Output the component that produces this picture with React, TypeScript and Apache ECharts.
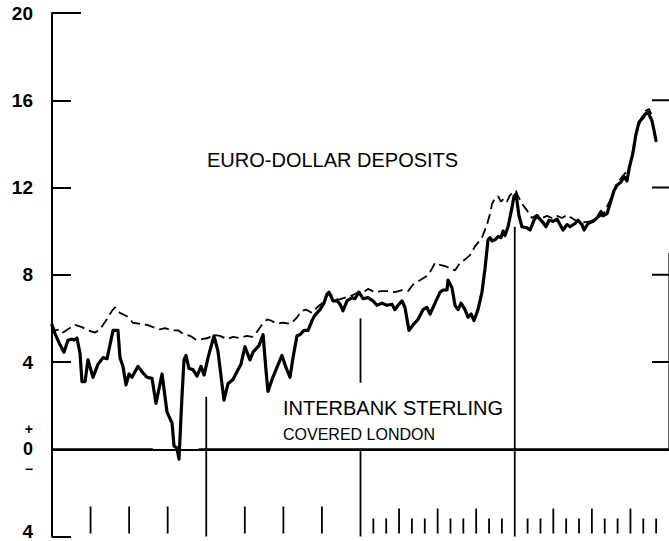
import React, { useEffect, useRef } from "react";
import * as echarts from "echarts";

// x = months from start of the period (4 years), y = per cent
const interbankSterling: number[][] = [
  [0, 5.7], [0.23, 5.3], [0.62, 4.8], [0.93, 4.45], [1.24, 5.0], [1.56, 5.05], [1.71, 5.0], [1.94, 5.1],
  [2.18, 4.4], [2.33, 3.1], [2.57, 3.1], [2.8, 4.1], [3.19, 3.3], [3.58, 3.9], [3.97, 4.2], [4.28, 4.15],
  [4.59, 5.0], [4.75, 5.45], [5.13, 5.45], [5.29, 4.2], [5.52, 3.8], [5.76, 2.95], [5.99, 3.45], [6.22, 3.3],
  [6.69, 3.8], [7.0, 3.55], [7.39, 3.3], [7.78, 3.25], [8.09, 2.1], [8.56, 3.45], [8.95, 1.7], [9.34, 1.2],
  [9.49, 0.15], [9.72, 0.05], [9.88, -0.45], [10.11, 2.4], [10.27, 4.1], [10.42, 4.3], [10.66, 3.7],
  [10.97, 3.65], [11.28, 3.35], [11.59, 3.8], [11.83, 3.4], [12.14, 4.2], [12.6, 5.2], [12.91, 4.5],
  [13.38, 2.25], [13.69, 3.0], [14.08, 3.2], [14.39, 3.55], [14.7, 3.9], [15.01, 4.7], [15.4, 4.1],
  [15.64, 4.45], [16.1, 4.75], [16.42, 5.25], [16.65, 3.6], [16.8, 2.65], [17.12, 3.2], [17.5, 3.75],
  [17.89, 4.3], [18.2, 3.75], [18.52, 3.3], [18.75, 4.2], [19.06, 5.2], [19.29, 5.25], [19.6, 5.45],
  [19.92, 5.45], [20.23, 5.9], [20.46, 6.15], [20.85, 6.4], [21.16, 6.7], [21.39, 7.1], [21.55, 7.2],
  [21.86, 6.8], [22.17, 6.8], [22.41, 6.65], [22.64, 6.35], [22.95, 6.8], [23.34, 6.95], [23.57, 6.9],
  [23.88, 7.2], [24.2, 6.9], [24.58, 6.95], [24.97, 6.8], [25.28, 6.6], [25.67, 6.7], [26.06, 6.6],
  [26.45, 6.65], [26.68, 6.4], [26.92, 6.6], [27.23, 6.8], [27.46, 6.5], [27.77, 5.45], [28.09, 5.7],
  [28.47, 5.95], [28.86, 6.4], [29.17, 6.5], [29.41, 6.2], [29.8, 6.7], [30.19, 7.2], [30.42, 7.3],
  [30.73, 7.3], [30.81, 7.75], [31.12, 7.4], [31.35, 6.6], [31.59, 6.4], [31.82, 6.7], [32.13, 6.4],
  [32.36, 6.05], [32.6, 6.2], [32.83, 5.9], [33.14, 6.4], [33.45, 7.2], [33.69, 8.3], [33.92, 9.6],
  [34.08, 9.7], [34.23, 9.55], [34.46, 9.6], [34.7, 9.75], [34.93, 9.7], [35.09, 10.0], [35.24, 9.8],
  [35.48, 10.2], [35.79, 11.1], [35.94, 11.6], [36.1, 11.7], [36.33, 10.7], [36.56, 10.2], [36.95, 10.15],
  [37.19, 10.05], [37.5, 10.5], [37.73, 10.7], [38.12, 10.45], [38.43, 10.2], [38.67, 10.5], [38.98, 10.45],
  [39.29, 10.55], [39.52, 10.3], [39.75, 10.05], [40.07, 10.3], [40.3, 10.2], [40.69, 10.35], [40.92, 10.5],
  [41.23, 10.3], [41.39, 10.05], [41.7, 10.35], [42.09, 10.45], [42.4, 10.6], [42.71, 10.9], [42.87, 10.7],
  [43.18, 10.8], [43.49, 11.4], [43.72, 11.85], [43.96, 12.1], [44.27, 12.25], [44.5, 12.5], [44.73, 12.3],
  [44.89, 12.85], [45.2, 13.6], [45.43, 14.45], [45.67, 15.0], [45.98, 15.2], [46.13, 15.35], [46.37, 15.45],
  [46.68, 15.05], [46.84, 14.6], [46.99, 14.15],
];

const euroDollarDeposits: number[][] = [
  [0, 5.7], [0.23, 5.45], [0.62, 5.5], [0.86, 5.35], [1.24, 5.5], [1.79, 5.7], [2.33, 5.6], [2.8, 5.45],
  [3.35, 5.35], [3.73, 5.5], [4.2, 5.9], [4.67, 6.35], [4.9, 6.5], [5.29, 6.25], [5.83, 6.1], [6.3, 5.8],
  [6.85, 5.75], [7.39, 5.7], [7.86, 5.6], [8.4, 5.5], [8.79, 5.55], [9.34, 5.45], [9.8, 5.45], [10.19, 5.3],
  [10.74, 5.2], [11.28, 5.0], [11.67, 5.05], [12.14, 5.1], [12.53, 5.25], [13.07, 5.2], [13.61, 5.05],
  [14.08, 5.15], [14.63, 5.1], [15.17, 5.2], [15.56, 5.15], [15.79, 5.25], [16.26, 5.65], [16.73, 5.95],
  [17.04, 5.9], [17.5, 5.75], [17.97, 5.8], [18.59, 5.75], [19.06, 6.05], [19.45, 6.35], [19.76, 6.4],
  [20.23, 6.25], [20.62, 6.5], [21.01, 6.7], [21.39, 7.1], [21.78, 7.05], [22.25, 6.85], [22.79, 6.95],
  [23.34, 7.05], [23.81, 7.2], [24.35, 7.25], [24.58, 7.35], [25.13, 7.2], [25.67, 7.25], [26.14, 7.25],
  [26.68, 7.2], [27.23, 7.3], [27.7, 7.25], [28.09, 7.55], [28.63, 7.75], [29.17, 7.95], [29.49, 8.2],
  [29.8, 8.55], [30.19, 8.45], [30.57, 8.4], [30.96, 8.3], [31.35, 8.2], [31.74, 8.55], [32.13, 8.7],
  [32.52, 8.9], [32.91, 9.3], [33.45, 9.7], [33.84, 10.3], [34.08, 10.8], [34.23, 11.25], [34.46, 11.5],
  [34.7, 11.6], [34.93, 11.35], [35.16, 11.5], [35.4, 11.35], [35.63, 11.65], [35.94, 11.8], [36.1, 11.85],
  [36.25, 11.6], [36.64, 11.2], [36.95, 10.95], [37.34, 10.6], [37.73, 10.75], [38.12, 10.6], [38.51, 10.7],
  [38.9, 10.6], [39.29, 10.7], [39.68, 10.6], [40.07, 10.75], [40.3, 10.65], [40.85, 10.45], [41.31, 10.4],
  [41.86, 10.45], [42.4, 10.6], [42.87, 10.75], [43.41, 11.4], [43.96, 12.2], [44.42, 12.55], [44.89, 12.85],
  [45.2, 13.7], [45.51, 14.55], [45.82, 15.15], [46.13, 15.5], [46.44, 15.6], [46.75, 15.2],
];

// axis definition
const X_MIN = 0;
const X_MAX = 48;
const Y_MIN = -4;
const Y_MAX = 20;
const Y_STEP = 4;

// tick marks along the time axis (months)
const quarterTicksEarly = [3, 6, 9, 15, 18, 21];
const quarterTicksLate = [27, 30, 33, 39, 42, 45];
const monthTicksLate = [25, 26, 28, 29, 31, 32, 34, 35, 37, 38, 40, 41, 43, 44, 46, 47];
const rightTickValues = [16, 12, 8, 4];
const topTickValues = [20];

// reference line segments [x1, y1, x2, y2] in data units
const yearLines: number[][] = [
  [12, 2.4, 12, -4],
  [24, 6.0, 24, 3.05],
  [24, 0, 24, -4],
  [36, 10.2, 36, -4],
];
const zeroLine: number[][] = [
  [0, 0, 7.86, 0],
  [11.4, 0, 48, 0],
];
const rightEdge: number[][] = [[48, 9, 48, 0]];

const FONT = "'Liberation Sans', Arial, Helvetica, sans-serif";

function segmentSeries(data: number[][], width: number) {
  return {
    type: "custom",
    silent: true,
    z: 3,
    data,
    encode: { x: [0, 2], y: [1, 3] },
    renderItem: (_params: any, api: any) => {
      const a = api.coord([api.value(0), api.value(1)]);
      const b = api.coord([api.value(2), api.value(3)]);
      return {
        type: "line",
        shape: { x1: a[0], y1: a[1], x2: b[0], y2: b[1] },
        style: { stroke: "#000", lineWidth: width },
      };
    },
  };
}

function tickSeries(points: number[][], dx: number, dy: number, shiftY: number, width: number) {
  return {
    type: "custom",
    silent: true,
    z: 3,
    data: points,
    encode: { x: 0, y: 1 },
    renderItem: (_params: any, api: any) => {
      const p = api.coord([api.value(0), api.value(1)]);
      const y0 = p[1] + shiftY;
      return {
        type: "line",
        shape: { x1: p[0], y1: y0, x2: p[0] + dx, y2: y0 + dy },
        style: { stroke: "#000", lineWidth: width },
      };
    },
  };
}

export default function App() {
  const ref = useRef<HTMLDivElement>(null);

  useEffect(() => {
    if (!ref.current) return;
    const chart = echarts.init(ref.current, null, { renderer: "svg" });
    const AXIS_SHIFT = -3;

    const option: any = {
      animation: false,
      backgroundColor: "#fff",
      grid: { left: 52, right: 0, top: 13, bottom: 0, containLabel: false },
      xAxis: {
        type: "value",
        min: X_MIN,
        max: X_MAX,
        offset: AXIS_SHIFT,
        axisLine: { show: true, lineStyle: { color: "#000", width: 2 } },
        axisTick: { show: false },
        axisLabel: { show: false },
        splitLine: { show: false },
      },
      yAxis: {
        type: "value",
        min: Y_MIN,
        max: Y_MAX,
        interval: Y_STEP,
        axisLine: { show: true, lineStyle: { color: "#000", width: 2 } },
        axisTick: { show: true, inside: true, length: 19, lineStyle: { color: "#000", width: 2 } },
        splitLine: { show: false },
        axisLabel: {
          margin: 19,
          color: "#000",
          fontFamily: FONT,
          fontSize: 19,
          fontWeight: "bold",
          formatter: (v: number) => {
            if (v === 0) return "{pm|+}\n{z|0}\n{pm|−}";
            if (v < 0) return "{low|" + Math.abs(v) + "}";
            return String(v);
          },
          rich: {
            pm: { fontFamily: FONT, fontSize: 14, fontWeight: "bold", lineHeight: 20, color: "#000", align: "right" },
            z: { fontFamily: FONT, fontSize: 18, fontWeight: "bold", lineHeight: 20, color: "#000", align: "right" },
            low: { fontFamily: FONT, fontSize: 19, fontWeight: "bold", color: "#000", padding: [0, 0, 10, 0] },
          },
        },
      },
      graphic: [
        {
          type: "text",
          x: 207,
          y: 160,
          silent: true,
          style: { text: "EURO-DOLLAR DEPOSITS", fontFamily: FONT, fontSize: 20, fill: "#000", verticalAlign: "middle" },
        },
        {
          type: "text",
          x: 283,
          y: 408,
          silent: true,
          style: { text: "INTERBANK STERLING", fontFamily: FONT, fontSize: 20, fill: "#000", verticalAlign: "middle" },
        },
        {
          type: "text",
          x: 283,
          y: 434,
          silent: true,
          style: { text: "COVERED LONDON", fontFamily: FONT, fontSize: 16, fill: "#000", verticalAlign: "middle" },
        },
      ],
      series: [
        segmentSeries(zeroLine, 2),
        segmentSeries(yearLines, 1.8),
        segmentSeries(rightEdge, 1.2),
        tickSeries(quarterTicksEarly.map((m) => [m, Y_MIN]), 0, -27, AXIS_SHIFT, 1.8),
        tickSeries(quarterTicksLate.map((m) => [m, Y_MIN]), 0, -25, AXIS_SHIFT, 1.8),
        tickSeries(monthTicksLate.map((m) => [m, Y_MIN]), 0, -15, AXIS_SHIFT, 1.8),
        tickSeries(rightTickValues.map((v) => [X_MAX, v]), -17, 0, 0, 2),
        tickSeries(topTickValues.map((v) => [X_MIN, v]), 29, 0, 0, 2),
        {
          name: "Euro-dollar deposits",
          type: "line",
          data: euroDollarDeposits,
          showSymbol: false,
          symbol: "none",
          z: 4,
          lineStyle: { color: "#000", width: 1.8, type: [10, 5] },
        },
        {
          name: "Interbank sterling covered London",
          type: "line",
          data: interbankSterling,
          showSymbol: false,
          symbol: "none",
          z: 5,
          lineStyle: { color: "#000", width: 3.2, join: "round", cap: "round" },
        },
      ],
    };

    chart.setOption(option);
    return () => chart.dispose();
  }, []);

  return (
    <div
      ref={ref}
      style={{ position: "fixed", left: 0, top: 0, width: 669, height: 541, background: "#fff" }}
    />
  );
}
